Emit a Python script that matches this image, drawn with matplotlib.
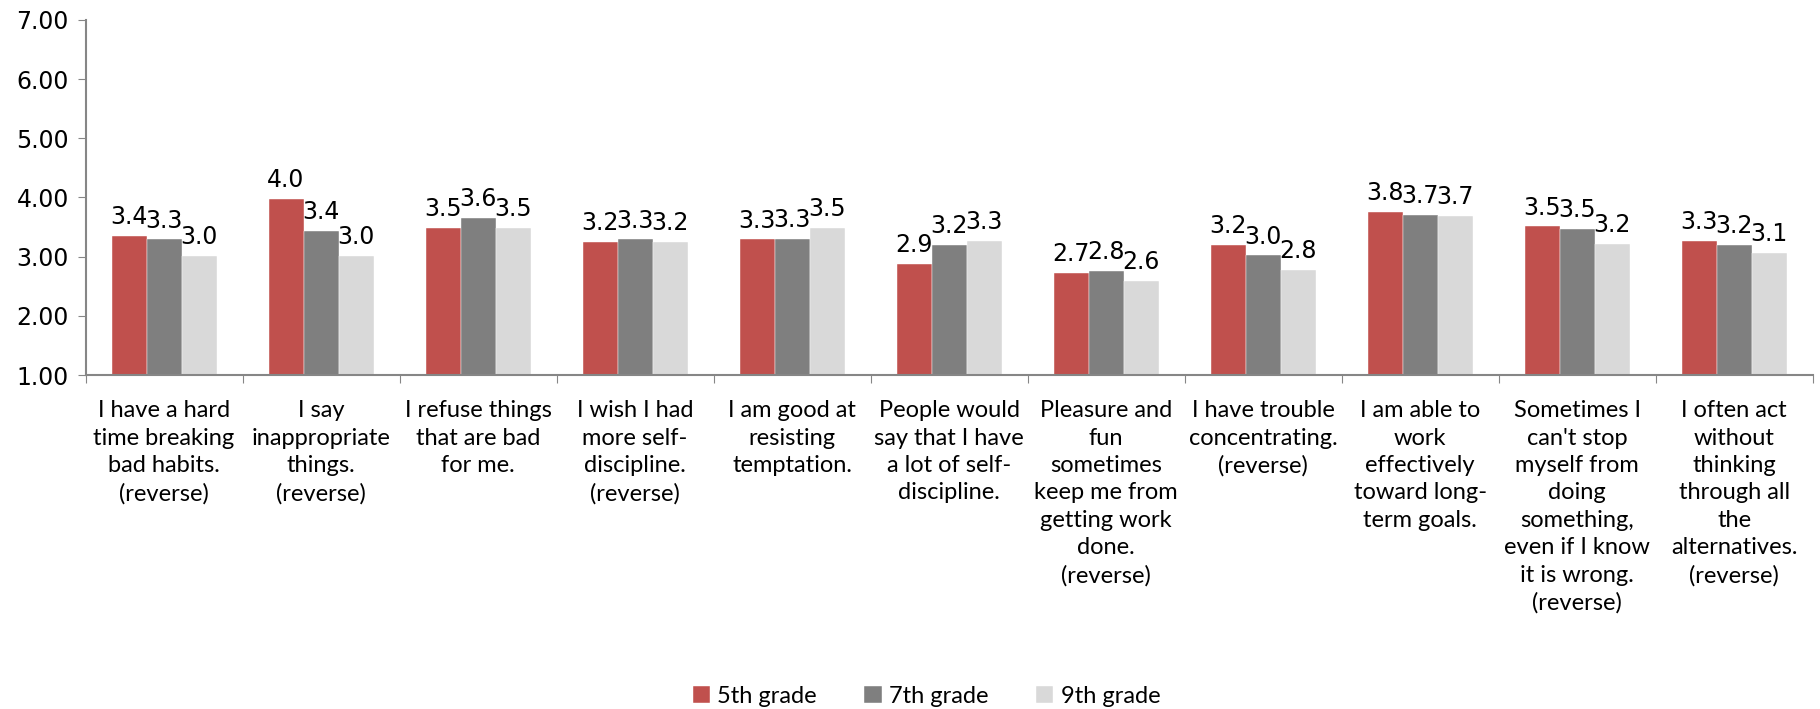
import numpy as np
import matplotlib.pyplot as plt

categories = [
    "I have a hard\ntime breaking\nbad habits.\n(reverse)",
    "I say\ninappropriate\nthings.\n(reverse)",
    "I refuse things\nthat are bad\nfor me.",
    "I wish I had\nmore self-\ndiscipline.\n(reverse)",
    "I am good at\nresisting\ntemptation.",
    "People would\nsay that I have\na lot of self-\ndiscipline.",
    "Pleasure and\nfun\nsometimes\nkeep me from\ngetting work\ndone.\n(reverse)",
    "I have trouble\nconcentrating.\n(reverse)",
    "I am able to\nwork\neffectively\ntoward long-\nterm goals.",
    "Sometimes I\ncan't stop\nmyself from\ndoing\nsomething,\neven if I know\nit is wrong.\n(reverse)",
    "I often act\nwithout\nthinking\nthrough all\nthe\nalternatives.\n(reverse)",
]
grade5 = [3.35, 3.97, 3.49, 3.25, 3.29, 2.88, 2.72, 3.19, 3.75, 3.51, 3.27]
grade7 = [3.29, 3.43, 3.65, 3.29, 3.30, 3.19, 2.76, 3.02, 3.71, 3.46, 3.20]
grade9 = [3.01, 3.01, 3.49, 3.25, 3.48, 3.26, 2.59, 2.78, 3.69, 3.22, 3.06]
series_names = ["5th grade", "7th grade", "9th grade"]
colors = ["#C0504D", "#7F7F7F", "#D9D9D9"]

label_font = ["Lato", "DejaVu Sans"]
axis_col = "#868686"

fig = plt.figure(figsize=(18.2, 7.09), dpi=100)
ax = fig.add_axes([0.047, 0.471, 0.949, 0.501])

x = np.arange(len(categories))
w = 0.223
handles = []
for i, (vals, name, c) in enumerate(zip([grade5, grade7, grade9], series_names, colors)):
    bars = ax.bar(x + (i - 1) * w, np.array(vals) - 1, w, bottom=1, color=c,
                  label=name, edgecolor="white", linewidth=0.3)
    ax.bar_label(bars, labels=["%.1f" % v for v in vals], padding=5,
                 fontsize=17, color="black")
    handles.append(bars)

ax.set_ylim(1, 7)
ax.set_xlim(-0.5, len(categories) - 0.5)
ax.set_yticks(np.arange(1, 8))
ax.set_yticklabels(["%.2f" % v for v in np.arange(1, 8)], fontsize=17)
ax.tick_params(axis="y", length=6, color=axis_col, pad=6)

# category separators as ticks, labels as minor ticks
ax.set_xticks(np.arange(-0.5, len(categories)))
ax.set_xticklabels([])
ax.tick_params(axis="x", which="major", length=6, color=axis_col)
ax.set_xticks(x, minor=True)
ax.set_xticklabels(categories, minor=True, family=label_font, fontsize=17,
                   linespacing=1.38)
ax.tick_params(axis="x", which="minor", length=0, pad=18)

for s in ["top", "right"]:
    ax.spines[s].set_visible(False)
for s in ["left", "bottom"]:
    ax.spines[s].set_color(axis_col)
    ax.spines[s].set_linewidth(1.5)

fig.legend(handles=handles, labels=series_names, loc="center",
           bbox_to_anchor=(0.509, 0.018), ncol=3, frameon=False,
           prop={"family": label_font, "size": 17}, handlelength=0.75,
           handleheight=0.75, handletextpad=0.3, columnspacing=2.0)

fig.savefig("out.png", dpi=100)
